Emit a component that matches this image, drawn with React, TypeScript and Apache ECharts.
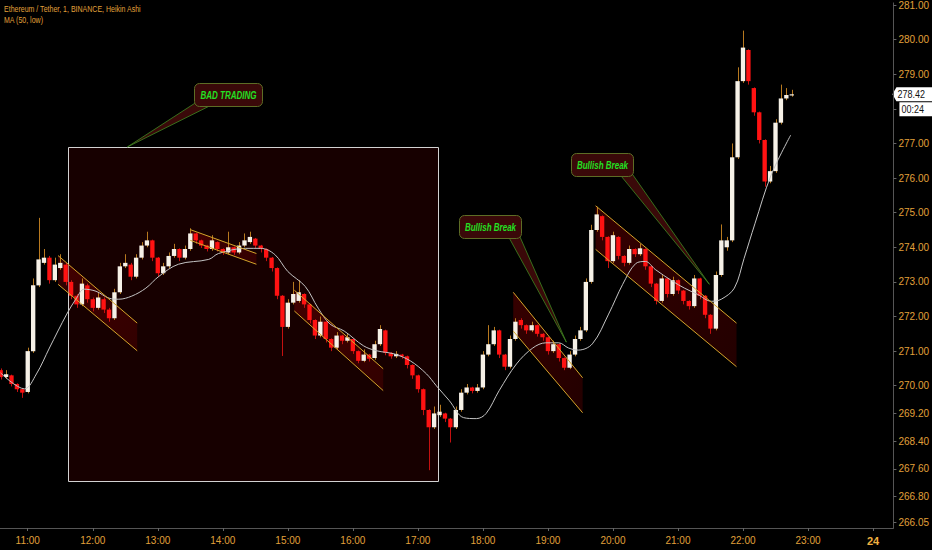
import React, { useEffect, useRef } from 'react';
import * as echarts from 'echarts';

// ---------- DATA ----------
const TITLE_LINE_1 = 'Ethereum / Tether, 1, BINANCE, Heikin Ashi';
const TITLE_LINE_2 = 'MA (50, low)';

const candleStart = '10:35';
const candleStepMin = 5;
// Heikin Ashi candles: [open, close, low, high]
const haCandles: number[][] = [
  [270.45, 270.25, 270.18, 270.5], [270.25, 270.33, 270.2, 270.45], [270.3, 270.05, 269.98, 270.32],
  [270.05, 269.9, 269.82, 270.07], [269.9, 269.8, 269.65, 269.92], [269.82, 271.0, 269.78, 271.1],
  [271.0, 272.9, 270.95, 273.1], [272.9, 273.65, 272.85, 274.85], [273.55, 273.7, 273.5, 273.95],
  [273.7, 273.05, 272.95, 273.75], [273.05, 273.5, 273.0, 273.7], [273.4, 273.55, 273.35, 273.8],
  [273.5, 273.0, 272.9, 273.55], [273.0, 272.6, 272.5, 273.05], [272.6, 272.35, 272.25, 272.65],
  [272.35, 272.95, 272.3, 273.1], [272.9, 272.5, 272.4, 272.95], [272.5, 272.25, 272.15, 272.55],
  [272.25, 272.55, 272.2, 272.7], [272.5, 272.2, 272.1, 272.55], [272.2, 271.95, 271.85, 272.25],
  [271.95, 272.7, 271.9, 272.8], [272.7, 273.45, 272.65, 273.55], [273.45, 273.55, 273.4, 273.8],
  [273.5, 273.15, 273.05, 273.55], [273.15, 273.7, 273.1, 273.8], [273.7, 274.05, 273.65, 274.15],
  [274.05, 274.2, 274.0, 274.45], [274.2, 273.7, 273.6, 274.22], [273.7, 273.25, 273.15, 273.72],
  [273.25, 273.45, 273.2, 273.55], [273.45, 273.75, 273.4, 273.85], [273.75, 273.95, 273.7, 274.1],
  [273.95, 273.7, 273.6, 273.97], [273.7, 273.95, 273.65, 274.05], [273.95, 274.4, 273.9, 274.55],
  [274.4, 274.2, 274.1, 274.42], [274.2, 274.05, 273.98, 274.22], [274.05, 273.95, 273.88, 274.07],
  [273.95, 274.2, 273.9, 274.35], [274.15, 273.95, 273.88, 274.17], [273.95, 273.85, 273.78, 273.97],
  [273.85, 274.0, 273.8, 274.45], [274.0, 273.85, 273.78, 274.02], [273.85, 274.05, 273.8, 274.15],
  [274.05, 274.2, 274.0, 274.4], [274.15, 274.3, 274.1, 274.45], [274.25, 274.05, 273.98, 274.27],
  [274.05, 273.95, 273.85, 274.07], [273.95, 273.7, 273.6, 273.97], [273.7, 273.4, 273.3, 273.72],
  [273.4, 272.6, 272.5, 273.42], [272.6, 271.7, 270.86, 272.62], [271.7, 272.4, 271.65, 272.5],
  [272.4, 272.65, 272.35, 273.0], [272.45, 272.7, 272.4, 273.05], [272.65, 272.35, 272.25, 272.67],
  [272.35, 271.9, 271.8, 272.37], [271.9, 271.45, 271.35, 271.92], [271.45, 271.85, 271.4, 272.0],
  [271.85, 271.35, 271.25, 271.87], [271.35, 271.1, 271.0, 271.37], [271.1, 271.45, 271.05, 271.55],
  [271.45, 271.3, 271.2, 271.47], [271.3, 271.4, 271.25, 271.5], [271.35, 271.0, 270.92, 271.37],
  [271.0, 270.72, 270.65, 271.02], [270.72, 270.9, 270.68, 271.05], [270.9, 270.78, 270.7, 270.92],
  [270.8, 271.2, 270.75, 271.3], [271.2, 271.64, 271.15, 271.75], [271.6, 270.95, 270.88, 271.62],
  [270.95, 270.85, 270.78, 270.97], [270.85, 270.92, 270.8, 271.0], [270.9, 270.85, 270.78, 270.92],
  [270.85, 270.6, 270.5, 270.87], [270.6, 270.3, 270.2, 270.62], [270.3, 269.9, 269.8, 270.32],
  [269.9, 269.3, 269.15, 269.92], [269.3, 268.8, 267.56, 269.32], [268.8, 269.2, 268.75, 269.4],
  [269.15, 269.25, 269.1, 269.45], [269.2, 269.05, 268.95, 269.22], [269.05, 268.8, 268.36, 269.07],
  [268.8, 269.3, 268.75, 269.4], [269.3, 269.8, 269.25, 269.9], [269.8, 269.95, 269.75, 270.05],
  [269.95, 269.85, 269.78, 269.97], [269.85, 269.95, 269.8, 270.05], [269.95, 270.9, 269.9, 271.0],
  [270.9, 271.2, 270.85, 271.75], [271.2, 271.6, 271.15, 271.7], [271.6, 270.9, 270.8, 271.62],
  [270.9, 270.55, 270.45, 270.92], [270.55, 271.35, 270.5, 271.45], [271.35, 271.85, 271.3, 271.95],
  [271.9, 271.75, 271.65, 271.95], [271.75, 271.6, 271.5, 271.77], [271.6, 271.75, 271.55, 271.85],
  [271.75, 271.5, 271.42, 271.77], [271.5, 271.4, 271.3, 271.52], [271.4, 271.0, 270.9, 271.42],
  [271.0, 271.2, 270.95, 271.3], [271.2, 270.8, 270.7, 271.22], [270.8, 270.52, 270.45, 270.82],
  [270.52, 270.9, 270.48, 271.0], [270.9, 271.35, 270.85, 271.45], [271.35, 271.6, 271.3, 271.7],
  [271.6, 273.0, 271.55, 273.1], [273.0, 274.5, 272.95, 274.65], [274.5, 274.95, 274.45, 275.17],
  [274.9, 274.3, 274.2, 274.92], [274.3, 273.6, 273.4, 274.32], [273.6, 274.35, 273.55, 274.45],
  [274.3, 273.75, 273.65, 274.32], [273.75, 273.55, 273.45, 273.77], [273.55, 273.95, 273.5, 274.05],
  [273.95, 273.8, 273.72, 273.97], [273.8, 273.97, 273.75, 274.1], [273.95, 273.45, 273.35, 273.97],
  [273.45, 272.95, 272.85, 273.47], [272.95, 272.45, 272.35, 272.97], [272.45, 273.1, 272.4, 273.2],
  [273.1, 272.65, 272.55, 273.12], [272.65, 273.05, 272.6, 273.15], [273.05, 272.75, 272.65, 273.07],
  [272.75, 272.45, 272.35, 272.77], [272.45, 272.3, 272.2, 272.47], [272.3, 273.1, 272.25, 273.2],
  [273.1, 272.6, 272.5, 273.12], [272.6, 272.05, 271.95, 272.62], [272.05, 271.65, 271.5, 272.07],
  [271.65, 273.2, 271.6, 273.3], [273.2, 274.2, 273.15, 274.66], [274.0, 274.2, 273.9, 274.3],
  [274.2, 276.6, 274.15, 277.0], [276.6, 278.8, 276.55, 279.2], [278.8, 279.77, 278.75, 280.26],
  [279.7, 278.8, 278.7, 279.72], [278.6, 277.9, 277.8, 278.62], [277.9, 277.1, 277.0, 277.92],
  [277.1, 275.9, 275.75, 277.12], [275.9, 276.2, 275.85, 276.35], [276.2, 277.6, 276.15, 277.7],
  [277.6, 278.3, 277.55, 278.7], [278.3, 278.4, 278.25, 278.6], [278.4, 278.42, 278.35, 278.55],
];

const maTimes = [
  '10:35', '10:57', '11:08', '11:20', '11:36', '11:45', '11:52', '12:03', '12:15', '12:24',
  '12:36', '12:49', '13:01', '13:19', '13:47', '13:56', '14:21', '14:35', '14:48', '15:00',
  '15:16', '15:28', '15:39', '15:52', '16:10', '16:22', '16:38', '16:53', '17:08', '17:17',
  '17:29', '17:42', '17:54', '18:03', '18:15', '18:31', '18:46', '18:58', '19:10', '19:19',
  '19:28', '19:41', '19:56', '20:09', '20:21', '20:30', '20:39', '20:55', '21:06', '21:18',
  '21:31', '21:40', '21:52', '22:01', '22:11', '22:26', '22:44',
];
const maValues = [
  270.37, 269.91, 270.34, 271.09, 272.07, 272.53, 272.79, 272.73, 272.53, 272.5,
  272.59, 272.82, 273.16, 273.51, 273.65, 273.82, 273.97, 273.97, 273.79, 273.3,
  272.87, 272.24, 271.78, 271.58, 271.15, 271.01, 270.92, 270.72, 270.34, 270.0,
  269.57, 269.08, 269.05, 269.2, 269.86, 270.63, 271.09, 271.24, 271.24, 271.09,
  271.03, 271.21, 272.07, 272.93, 273.53, 273.59, 273.36, 273.02, 272.82, 272.64,
  272.44, 272.5, 272.82, 273.68, 274.68, 276.09, 277.24,
];

// y ticks; the 278.00 label sits under the countdown box, so only its tick is drawn
const yTickValues = [281, 280, 279, 278, 277, 276, 275, 274, 273, 272, 271, 270, 269.2, 268.4, 267.6, 266.8, 266.05];
const yHiddenLabels = [278];
const xTickLabels = ['11:00', '12:00', '13:00', '14:00', '15:00', '16:00', '17:00', '18:00', '19:00', '20:00', '21:00', '22:00', '23:00', '24'];

// drawn channels (start time, end time, upper start/end, lower start/end)
const channelStart = ['11:28', '13:30', '15:06', '18:28', '19:44'];
const channelEnd = ['12:41', '14:31', '16:28', '19:32', '21:54'];
const channelUpperStart = [273.76, 274.51, 272.76, 272.7, 275.2];
const channelUpperEnd = [271.81, 273.82, 270.49, 270.23, 271.81];
const channelLowerStart = [272.93, 274.2, 272.16, 271.58, 273.94];
const channelLowerEnd = [271.01, 273.51, 269.86, 269.22, 270.55];

// "bad trading" rectangle
const boxTimes = ['11:37', '17:18'];
const boxPrices = [276.9, 267.24];

// callouts
const calloutTexts = ['BAD TRADING', 'Bullish Break', 'Bullish Break'];
const calloutBoxTime = ['13:33', '17:38', '19:21'];
const calloutBoxPrice = [278.76, 274.93, 276.72];
const calloutTipTime = ['12:32', '19:17', '21:29'];
const calloutTipPrice = [276.9, 271.26, 272.93];

const countdownText = '00:24';

// ---------- STYLE ----------
const ORANGE = '#e0a03a';
const FONT = '"Liberation Sans Narrow", "Arial Narrow", "Liberation Sans", Arial, sans-serif';
const X_MIN = 634.4;
const X_MAX = 1458.8;
const Y_MIN = 265.89;
const Y_MAX = 281.06;

const toMin = (s: string) => {
  if (!s.includes(':')) return Number(s) * 60;
  const [h, m] = s.split(':').map(Number);
  return h * 60 + m;
};

export default function App() {
  const ref = useRef<HTMLDivElement>(null);

  useEffect(() => {
    if (!ref.current) return;
    const chart = echarts.init(ref.current, undefined, { renderer: 'svg' });

    const t0 = toMin(candleStart);
    const candleData = haCandles.map((c, i) => [t0 + i * candleStepMin, c[0], c[1], c[2], c[3]]);
    const maData = maTimes.map((t, i) => [toMin(t), maValues[i]]);
    const channelData = channelStart.map((s, i) => [
      toMin(s), channelUpperStart[i], toMin(channelEnd[i]), channelUpperEnd[i], channelLowerStart[i], channelLowerEnd[i],
    ]);
    const boxData = [[toMin(boxTimes[0]), boxPrices[0], toMin(boxTimes[1]), boxPrices[1]]];
    const calloutData = calloutTexts.map((_, i) => [
      toMin(calloutBoxTime[i]), calloutBoxPrice[i], toMin(calloutTipTime[i]), calloutTipPrice[i],
    ]);
    const xTickValues = xTickLabels.map(toMin);
    const yLabelValues = yTickValues.filter((v) => !yHiddenLabels.includes(v));

    const option: any = {
      animation: false,
      backgroundColor: '#000000',
      grid: { left: 0, right: 32, top: 0, bottom: 22, containLabel: false },
      xAxis: {
        type: 'value',
        min: X_MIN,
        max: X_MAX,
        axisLine: { show: true, lineStyle: { color: '#555555', width: 1 } },
        axisTick: { show: true, customValues: xTickValues, length: 3, lineStyle: { color: '#666666' } },
        axisLabel: {
          customValues: xTickValues,
          color: ORANGE,
          fontSize: 10,
          fontFamily: FONT,
          margin: 7,
          formatter: (v: number) => {
            const idx = xTickValues.indexOf(Math.round(v));
            const lab = idx >= 0 ? xTickLabels[idx] : '';
            return lab.includes(':') ? lab : `{b|${lab}}`;
          },
          rich: { b: { color: '#f0b040', fontWeight: 'bold', fontSize: 11, fontFamily: FONT } },
        },
        splitLine: { show: false },
      },
      yAxis: {
        type: 'value',
        position: 'right',
        min: Y_MIN,
        max: Y_MAX,
        axisLine: { show: true, lineStyle: { color: '#555555', width: 1 } },
        axisTick: { show: true, customValues: yTickValues, length: 3, lineStyle: { color: '#666666' } },
        axisLabel: {
          customValues: yLabelValues,
          color: ORANGE,
          fontSize: 10,
          fontFamily: FONT,
          margin: 5,
          formatter: (v: number) => v.toFixed(2),
        },
        splitLine: { show: false },
      },
      series: [
        {
          type: 'custom',
          name: 'box',
          z: 1,
          silent: true,
          data: boxData,
          encode: { x: [0, 2], y: [1, 3] },
          renderItem: (_p: any, api: any) => {
            const a = api.coord([api.value(0), api.value(1)]);
            const b = api.coord([api.value(2), api.value(3)]);
            return {
              type: 'rect',
              shape: { x: Math.round(a[0]) + 0.5, y: Math.round(a[1]) + 0.5, width: Math.round(b[0] - a[0]), height: Math.round(b[1] - a[1]) },
              style: { fill: 'rgba(90,0,0,0.25)', stroke: '#d2d2d2', lineWidth: 1 },
            };
          },
        },
        {
          type: 'custom',
          name: 'channelFill',
          z: 2,
          silent: true,
          data: channelData,
          encode: { x: [0, 2], y: [1, 3, 4, 5] },
          renderItem: (_p: any, api: any) => {
            const u1 = api.coord([api.value(0), api.value(1)]);
            const u2 = api.coord([api.value(2), api.value(3)]);
            const l1 = api.coord([api.value(0), api.value(4)]);
            const l2 = api.coord([api.value(2), api.value(5)]);
            return {
              type: 'polygon',
              shape: { points: [u1, u2, l2, l1] },
              style: {
                fill: new echarts.graphic.LinearGradient(0, 0, 1, 1, [
                  { offset: 0, color: 'rgba(120,0,0,0.45)' },
                  { offset: 1, color: 'rgba(100,0,0,0.35)' },
                ]),
              },
            };
          },
        },
        {
          type: 'custom',
          name: 'Heikin Ashi',
          z: 3,
          data: candleData,
          encode: { x: 0, y: [1, 2, 3, 4] },
          renderItem: (_p: any, api: any) => {
            const t = api.value(0);
            const o = api.value(1);
            const c = api.value(2);
            const l = api.value(3);
            const h = api.value(4);
            const up = c >= o;
            const pH = api.coord([t, h]);
            const pL = api.coord([t, l]);
            const pO = api.coord([t, o]);
            const pC = api.coord([t, c]);
            const w = Math.max(1, api.size([candleStepMin, 0])[0] * 0.8);
            const top = Math.min(pO[1], pC[1]);
            const ht = Math.max(1.2, Math.abs(pO[1] - pC[1]));
            const xc = Math.round(pO[0]) + 0.5;
            return {
              type: 'group',
              children: [
                {
                  type: 'line',
                  shape: { x1: xc, y1: pH[1], x2: xc, y2: pL[1] },
                  style: { stroke: up ? '#b7791f' : '#c41010', lineWidth: 1 },
                },
                {
                  type: 'rect',
                  shape: { x: pO[0] - w / 2, y: top, width: w, height: ht },
                  style: { fill: up ? '#f6f1e7' : '#ff1212' },
                },
              ],
            };
          },
        },
        {
          type: 'line',
          name: 'MA (50, low)',
          z: 4,
          data: maData,
          smooth: 0.35,
          symbol: 'none',
          lineStyle: { color: '#c4c4c4', width: 1 },
          silent: true,
        },
        {
          type: 'custom',
          name: 'channelLines',
          z: 5,
          silent: true,
          data: channelData,
          encode: { x: [0, 2], y: [1, 3, 4, 5] },
          renderItem: (_p: any, api: any) => {
            const u1 = api.coord([api.value(0), api.value(1)]);
            const u2 = api.coord([api.value(2), api.value(3)]);
            const l1 = api.coord([api.value(0), api.value(4)]);
            const l2 = api.coord([api.value(2), api.value(5)]);
            const st = { stroke: '#d4a52a', lineWidth: 1 };
            return {
              type: 'group',
              children: [
                { type: 'line', shape: { x1: u1[0], y1: u1[1], x2: u2[0], y2: u2[1] }, style: st },
                { type: 'line', shape: { x1: l1[0], y1: l1[1], x2: l2[0], y2: l2[1] }, style: st },
              ],
            };
          },
        },
        {
          type: 'custom',
          name: 'callouts',
          z: 6,
          silent: true,
          clip: false,
          data: calloutData,
          encode: { x: [0, 2], y: [1, 3] },
          renderItem: (p: any, api: any) => {
            const text = calloutTexts[p.dataIndex];
            const b = api.coord([api.value(0), api.value(1)]);
            const tip = api.coord([api.value(2), api.value(3)]);
            const w = text === 'BAD TRADING' ? 68 : 62;
            const h = 23;
            const bx = Math.round(b[0]) + 0.5;
            const by = Math.round(b[1]) + 0.5;
            const leftSide = tip[0] < bx + w / 2;
            const base = leftSide
              ? [[bx + 3, by + h - 5], [bx + 14, by + h]]
              : [[bx + w - 12, by + h], [bx + w - 3, by + h - 5]];
            return {
              type: 'group',
              children: [
                {
                  type: 'polygon',
                  shape: { points: [base[0], tip, base[1]] },
                  style: { fill: '#3a0909', stroke: '#3f8a22', lineWidth: 0.8 },
                },
                {
                  type: 'rect',
                  shape: { x: bx, y: by, width: w, height: h, r: 5 },
                  style: { fill: '#3a0909', stroke: '#5d6d25', lineWidth: 1 },
                },
                {
                  type: 'text',
                  x: bx + w / 2,
                  y: by + h / 2 + 0.5,
                  scaleX: 0.8,
                  style: {
                    text,
                    fill: '#23e023',
                    font: `italic bold 10px ${FONT}`,
                    align: 'center',
                    verticalAlign: 'middle',
                    textAlign: 'center',
                    textVerticalAlign: 'middle',
                  },
                },
              ],
            };
          },
        },
      ],
    };

    chart.setOption(option);

    const lastClose = haCandles[haCandles.length - 1][1];
    const py = chart.convertToPixel({ yAxisIndex: 0 }, lastClose) as number;
    const axisX = chart.convertToPixel({ xAxisIndex: 0 }, X_MAX) as number;
    chart.setOption({
      graphic: [
        {
          type: 'text',
          x: 4,
          y: 5,
          scaleX: 0.78,
          silent: true,
          style: { text: TITLE_LINE_1, fill: ORANGE, font: `9px ${FONT}` },
        },
        {
          type: 'text',
          x: 4,
          y: 16,
          scaleX: 0.78,
          silent: true,
          style: { text: TITLE_LINE_2, fill: ORANGE, font: `9px ${FONT}` },
        },
        {
          type: 'polygon',
          silent: true,
          shape: {
            points: [
              [axisX - 1, py], [axisX + 3, py - 7], [932, py - 7], [932, py + 7], [axisX + 3, py + 7],
            ],
          },
          style: { fill: '#ffffff' },
        },
        {
          type: 'text',
          silent: true,
          x: axisX + 4,
          y: py,
          scaleX: 0.9,
          style: { text: lastClose.toFixed(2), fill: '#111111', font: `10px ${FONT}`, verticalAlign: 'middle', textVerticalAlign: 'middle' },
        },
        {
          type: 'rect',
          silent: true,
          shape: { x: axisX + 6, y: py + 8, width: 932 - axisX - 6, height: 14 },
          style: { fill: '#ffffff' },
        },
        {
          type: 'text',
          silent: true,
          x: axisX + 8,
          y: py + 15,
          scaleX: 0.9,
          style: { text: countdownText, fill: '#111111', font: `10px ${FONT}`, verticalAlign: 'middle', textVerticalAlign: 'middle' },
        },
      ],
    });

    return () => chart.dispose();
  }, []);

  return (
    <div style={{ position: 'fixed', left: 0, top: 0, width: 932, height: 550, background: '#000' }}>
      <div ref={ref} style={{ width: 932, height: 550 }} />
    </div>
  );
}
